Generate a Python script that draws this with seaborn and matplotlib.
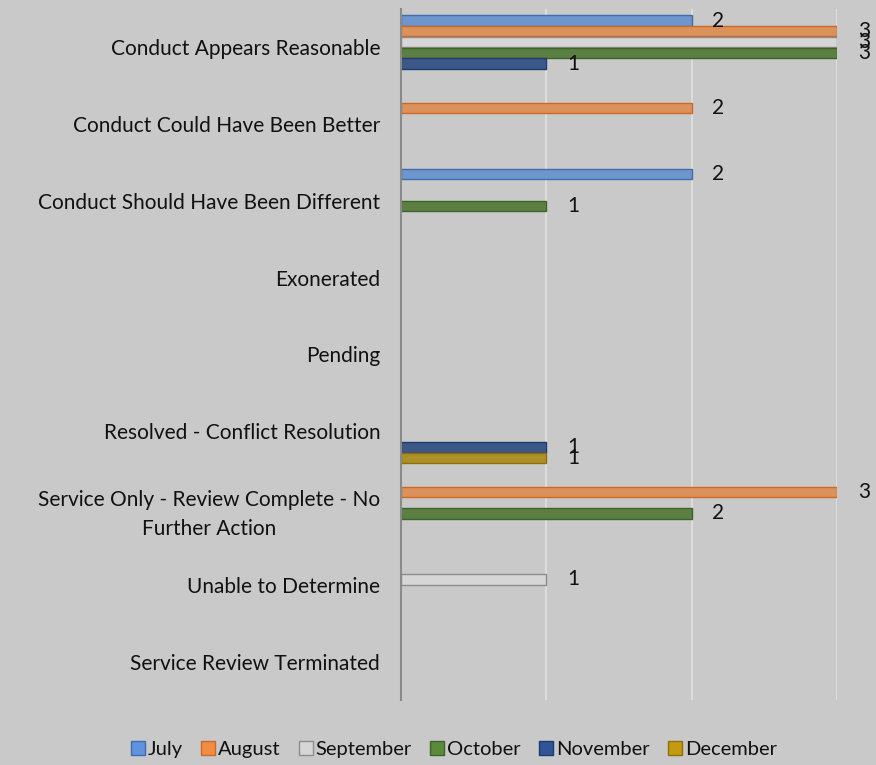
import matplotlib.pyplot as plt
import seaborn as sns
import pandas as pd
from matplotlib.patches import Patch

# Complaint outcomes by month
categories = [
    'Conduct Appears Reasonable',
    'Conduct Could Have Been Better',
    'Conduct Should Have Been Different',
    'Exonerated',
    'Pending',
    'Resolved - Conflict Resolution',
    'Service Only - Review Complete - No\nFurther Action',
    'Unable to Determine',
    'Service Review Terminated',
]
months = ['July', 'August', 'September', 'October', 'November', 'December']

july = [2, 0, 2, 0, 0, 0, 0, 0, 0]
august = [3, 2, 0, 0, 0, 0, 3, 0, 0]
september = [3, 0, 0, 0, 0, 0, 0, 1, 0]
october = [3, 0, 1, 0, 0, 0, 2, 0, 0]
november = [1, 0, 0, 0, 0, 1, 0, 0, 0]
december = [0, 0, 0, 0, 0, 1, 0, 0, 0]

colors = ['#5F93DC', '#F28C44', '#D6D6D6', '#5A8A3A', '#2F5596', '#C39B12']
edge_colors = ['#3F6EB0', '#C96A28', '#8C8C8C', '#3D6326', '#1E3B6E', '#8E700A']

series = [july, august, september, october, november, december]
rows = []
for month, vals in zip(months, series):
    for cat, v in zip(categories, vals):
        if v > 0:
            rows.append({'Outcome': cat, 'Month': month, 'Count': v})
df = pd.DataFrame(rows)

sns.set_style("white")
plt.rcParams['font.family'] = ['Lato', 'DejaVu Sans']

fig = plt.figure(figsize=(8.76, 7.65), dpi=100)
fig.patch.set_facecolor('#C9C9C9')
ax = fig.add_axes([401 / 876, 65 / 765, 436 / 876, 691 / 765])
ax.set_facecolor('#C9C9C9')

sns.barplot(data=df, y='Outcome', x='Count', hue='Month',
            order=categories, hue_order=months, palette=colors,
            orient='h', width=0.84, gap=0.05, dodge=True, ax=ax,
            legend=False, errorbar=None, linewidth=1)

for cont, ec in zip(ax.containers, edge_colors):
    for bar in cont:
        bar.set_edgecolor(ec)
    ax.bar_label(cont, labels=[f'{int(b.get_width())}' for b in cont],
                 padding=15, fontsize=15, color='#111111')

ax.set_xlim(0, 3)
ax.set_xticks([1, 2, 3])
ax.set_xticklabels([])
ax.grid(axis='x', color='#E2E2E2', linewidth=1.2)
ax.set_axisbelow(True)
ax.tick_params(axis='x', length=0)
ax.tick_params(axis='y', length=0, pad=15, labelsize=15, labelcolor='#111111')
for lbl in ax.get_yticklabels():
    lbl.set_multialignment('center')
    lbl.set_linespacing(1.55)
ax.set_xlabel('')
ax.set_ylabel('')
for side in ['top', 'right', 'bottom']:
    ax.spines[side].set_visible(False)
ax.spines['left'].set_color('#8A8A8A')
ax.spines['left'].set_linewidth(1.5)

handles = [Patch(facecolor=c, edgecolor=e, label=m)
           for c, e, m in zip(colors, edge_colors, months)]
fig.legend(handles=handles, loc='center', bbox_to_anchor=(0.518, 0.02),
           ncol=6, frameon=False, fontsize=14.5, handlelength=0.7,
           handleheight=0.7, handletextpad=0.15, columnspacing=0.9,
           labelcolor='#111111')

plt.savefig('out.png', dpi=100, facecolor=fig.get_facecolor())
plt.close()
